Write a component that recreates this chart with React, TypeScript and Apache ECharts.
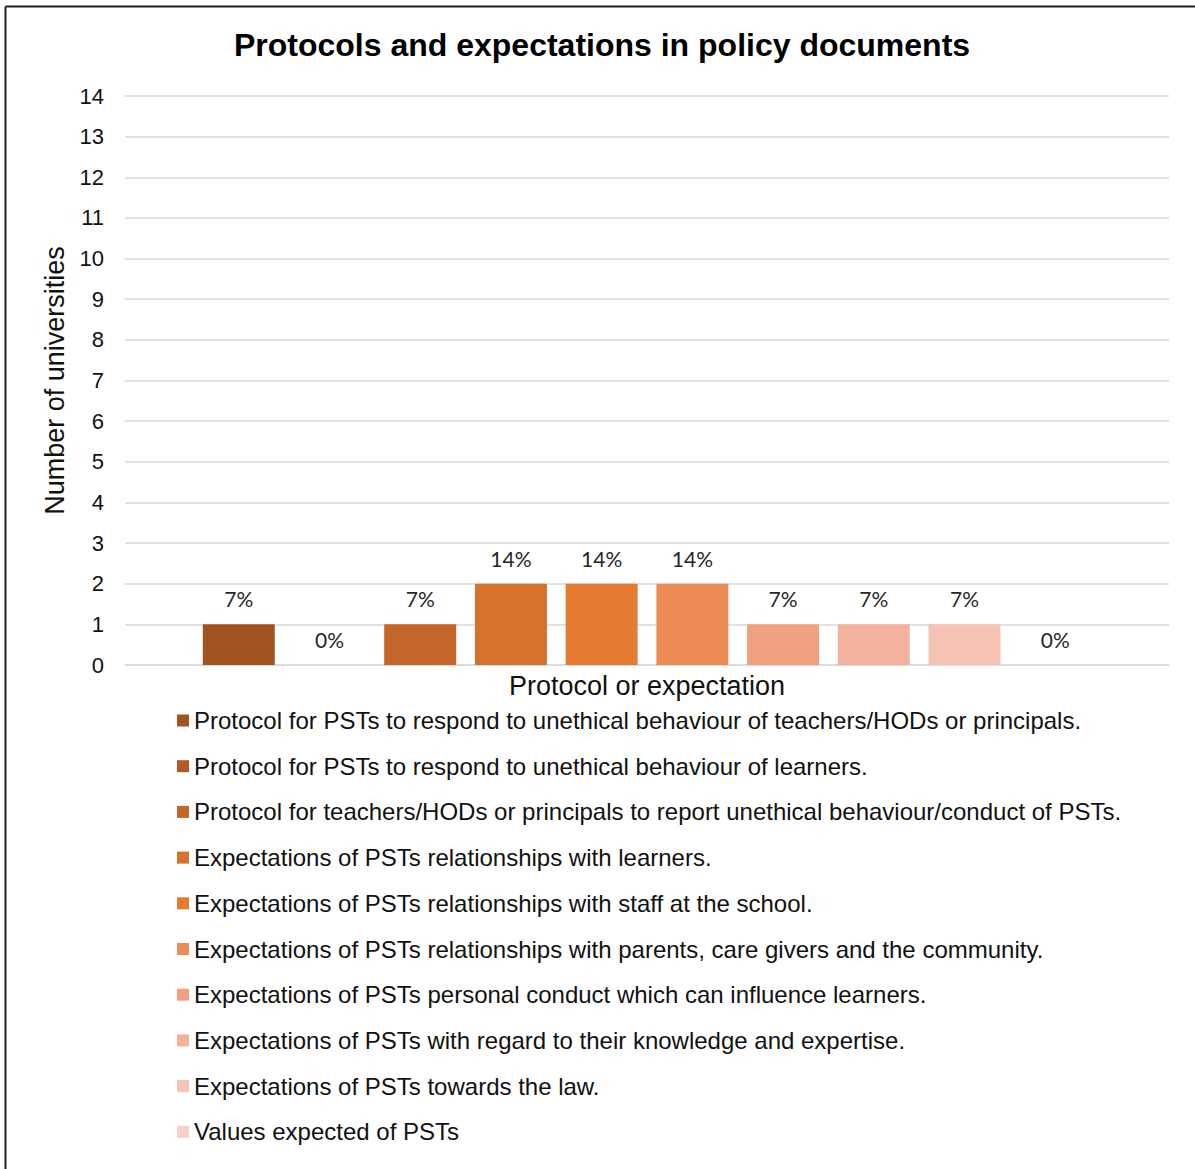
import React, { useEffect, useRef } from "react";
import * as echarts from "echarts";

const titleText = "Protocols and expectations in policy documents";
const yAxisName = "Number of universities";
const xAxisName = "Protocol or expectation";
const categories = [""];
const seriesNames = [
  "Protocol for PSTs to respond to unethical behaviour of teachers/HODs or principals.",
  "Protocol for PSTs to respond to unethical behaviour of learners.",
  "Protocol for teachers/HODs or principals to report unethical behaviour/conduct of PSTs.",
  "Expectations of PSTs relationships with learners.",
  "Expectations of PSTs relationships with staff at the school.",
  "Expectations of PSTs relationships with parents, care givers and the community.",
  "Expectations of PSTs personal conduct which can influence learners.",
  "Expectations of PSTs with regard to their knowledge and expertise.",
  "Expectations of PSTs towards the law.",
  "Values expected of PSTs",
];
const seriesValues = [1, 0, 1, 2, 2, 2, 1, 1, 1, 0];
const percentLabels = ["7%", "0%", "7%", "14%", "14%", "14%", "7%", "7%", "7%", "0%"];
const seriesColors = [
  "#A0531F",
  "#B05A24",
  "#C4652A",
  "#D7712E",
  "#E57A33",
  "#EE8C57",
  "#F0A17F",
  "#F3B29D",
  "#F4C3B5",
  "#F5D3C9",
];
const yMin = 0;
const yMax = 14;
const yInterval = 1;

export default function App() {
  const ref = useRef<HTMLDivElement>(null);
  useEffect(() => {
    if (!ref.current) return;
    const chart = echarts.init(ref.current, null, { renderer: "svg" });
    const font = "Liberation Sans";
    const series = seriesNames.map((name, i) => ({
      name,
      type: "bar",
      data: [seriesValues[i]],
      barWidth: 72,
      barGap: "26%",
      itemStyle: { color: seriesColors[i] },
      label: {
        show: true,
        position: "top",
        distance: 15,
        formatter: () => percentLabels[i],
        fontFamily: "Lato",
        fontSize: 21,
        color: "#262626",
      },
    }));
    chart.setOption({
      animation: false,
      backgroundColor: "#ffffff",
      title: {
        text: titleText,
        left: 597,
        textAlign: "center",
        top: 24,
        textStyle: {
          fontFamily: font,
          fontWeight: "bold",
          fontSize: 32,
          color: "#000000",
        },
      },
      grid: { left: 125, right: 26, top: 96, bottom: 504, containLabel: false },
      legend: {
        orient: "vertical",
        left: 177,
        top: 707,
        padding: 0,
        itemWidth: 12,
        itemHeight: 12,
        itemGap: 18.7,
        icon: "rect",
        data: seriesNames,
        textStyle: {
          fontFamily: font,
          fontSize: 24,
          lineHeight: 27,
          color: "#111111",
        },
      },
      xAxis: {
        type: "category",
        data: categories,
        name: xAxisName,
        nameLocation: "middle",
        nameGap: 7,
        nameTextStyle: { fontFamily: font, fontSize: 27, color: "#111111" },
        axisLine: { show: true, lineStyle: { color: "#d9d9d9", width: 1.5 } },
        axisTick: { show: false },
        axisLabel: { show: false },
      },
      yAxis: {
        type: "value",
        min: yMin,
        max: yMax,
        interval: yInterval,
        name: yAxisName,
        nameLocation: "middle",
        nameRotate: 90,
        nameGap: 55,
        nameTextStyle: { fontFamily: font, fontSize: 27, color: "#111111" },
        axisLine: { show: false },
        axisTick: { show: false },
        axisLabel: {
          fontFamily: font,
          fontSize: 22,
          color: "#111111",
          margin: 21,
        },
        splitLine: { show: true, lineStyle: { color: "#d9d9d9", width: 1.5 } },
      },
      graphic: [
        {
          type: "line",
          shape: { x1: 5.5, y1: 6.5, x2: 1195, y2: 6.5 },
          style: { stroke: "#222222", lineWidth: 2 },
          silent: true,
        },
        {
          type: "line",
          shape: { x1: 5.5, y1: 6.5, x2: 5.5, y2: 1169 },
          style: { stroke: "#222222", lineWidth: 2 },
          silent: true,
        },
      ],
      series,
    });
    return () => chart.dispose();
  }, []);
  return (
    <div
      ref={ref}
      style={{ position: "absolute", left: 0, top: 0, width: 1195, height: 1169 }}
    />
  );
}
